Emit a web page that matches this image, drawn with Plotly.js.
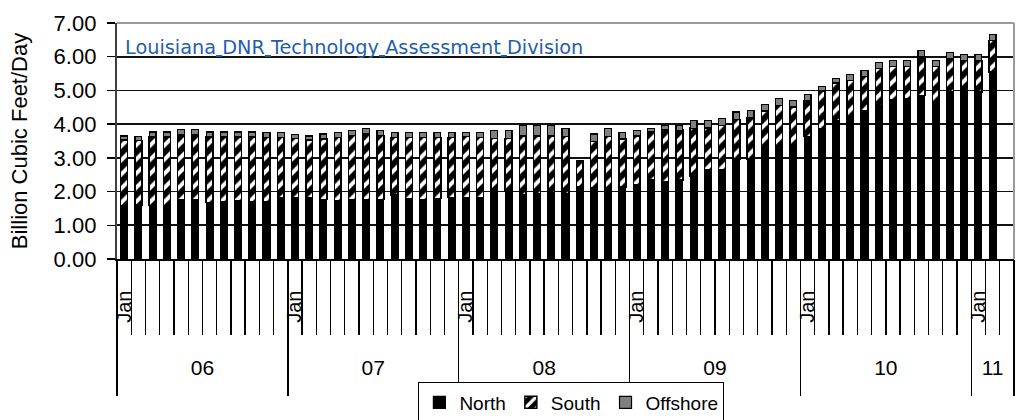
<!DOCTYPE html>
<html>
<head>
<meta charset="utf-8">
<script src="https://cdn.plot.ly/plotly-3.0.1.min.js"></script>
<style>
  html, body { margin: 0; padding: 0; background: #ffffff; }
  #chart { width: 1016px; height: 420px; }
</style>
</head>
<body>
<div id="chart"></div>
<script>
// ---- categories (one per month, Jan 2006 .. Mar 2011) ----
const months = [
  '2006-01','2006-02','2006-03','2006-04','2006-05','2006-06','2006-07','2006-08','2006-09','2006-10','2006-11','2006-12',
  '2007-01','2007-02','2007-03','2007-04','2007-05','2007-06','2007-07','2007-08','2007-09','2007-10','2007-11','2007-12',
  '2008-01','2008-02','2008-03','2008-04','2008-05','2008-06','2008-07','2008-08','2008-09','2008-10','2008-11','2008-12',
  '2009-01','2009-02','2009-03','2009-04','2009-05','2009-06','2009-07','2009-08','2009-09','2009-10','2009-11','2009-12',
  '2010-01','2010-02','2010-03','2010-04','2010-05','2010-06','2010-07','2010-08','2010-09','2010-10','2010-11','2010-12',
  '2011-01','2011-02','2011-03'
];

// ---- series values (Billion Cubic Feet/Day) ----
const north = [
  1.58,1.60,1.58,1.56,1.75,1.76,1.68,1.69,1.72,1.71,1.70,1.83,
  1.81,1.81,1.76,1.72,1.76,1.75,1.77,1.90,1.80,1.75,1.80,1.83,
  1.83,1.83,2.00,2.00,1.90,1.93,1.98,1.95,2.15,2.12,2.12,2.13,
  2.20,2.35,2.30,2.35,2.46,2.64,2.64,2.96,2.96,3.30,3.36,3.35,
  3.63,3.85,4.10,4.18,4.40,4.55,4.72,4.75,4.85,4.60,4.97,4.98,
  4.95,5.55,null
];
const south = [
  1.95,1.92,2.04,2.06,1.94,1.93,1.94,1.93,1.90,1.91,1.91,1.78,
  1.77,1.72,1.80,1.89,1.91,1.97,1.89,1.70,1.80,1.85,1.80,1.77,
  1.80,1.77,1.58,1.58,1.75,1.72,1.67,1.68,0.74,1.37,1.52,1.43,
  1.45,1.42,1.55,1.47,1.42,1.25,1.33,1.18,1.23,1.09,1.20,1.16,
  1.07,1.14,1.12,1.12,1.02,1.11,0.99,0.96,1.14,1.11,0.98,0.91,
  0.94,0.93,null
];
const offshore = [
  0.12,0.12,0.15,0.15,0.15,0.15,0.15,0.15,0.15,0.15,0.15,0.15,
  0.12,0.12,0.15,0.15,0.15,0.15,0.15,0.15,0.15,0.15,0.15,0.15,
  0.12,0.15,0.22,0.22,0.30,0.30,0.30,0.23,0.03,0.22,0.22,0.20,
  0.15,0.10,0.10,0.13,0.22,0.22,0.20,0.22,0.22,0.20,0.20,0.20,
  0.18,0.13,0.13,0.18,0.18,0.18,0.18,0.18,0.20,0.18,0.18,0.18,
  0.18,0.18,null
];

// ---- labels ----
const seriesNames = ['North', 'South', 'Offshore'];
const monthTickLabel = 'Jan';
const yearLabels = ['06', '07', '08', '09', '10', '11'];
const monthsPerYear = [12, 12, 12, 12, 12, 3];
const yTickVals = [0, 1, 2, 3, 4, 5, 6, 7];
const yTitle = 'Billion Cubic Feet/Day';
const sourceText = 'Louisiana<u> </u>DNR<u> </u>Technology<u> </u>Assessment<u> </u>Division';

// derived axis helpers (category index space)
const monthTickText = months.map(m => m.endsWith('-01') ? monthTickLabel : '');
const yearBounds = [-0.5];
const yearCenters = [];
let acc = 0;
monthsPerYear.forEach(n => {
  yearCenters.push(acc + n / 2 - 0.5);
  acc += n;
  yearBounds.push(acc - 0.5);
});
const nCat = months.length;

const FONT = '"Liberation Sans", Arial, sans-serif';

const traces = [
  {
    type: 'bar', name: seriesNames[0], x: months, y: north,
    marker: { color: '#000000', line: { color: '#000000', width: 1.2 } },
    hoverinfo: 'skip'
  },
  {
    type: 'bar', name: seriesNames[1], x: months, y: south,
    marker: {
      color: '#ffffff',
      line: { color: '#000000', width: 1.5 },
      pattern: { shape: '/', fgcolor: '#ffffff', bgcolor: '#000000', size: 10, solidity: 0.4 }
    },
    hoverinfo: 'skip'
  },
  {
    type: 'bar', name: seriesNames[2], x: months, y: offshore,
    marker: { color: '#808080', line: { color: '#000000', width: 1.2 } },
    hoverinfo: 'skip'
  },
  // empty helper traces so the year-divider and year-label axes are drawn
  { type: 'scatter', mode: 'markers', x: [], y: [], xaxis: 'x2', yaxis: 'y', showlegend: false, hoverinfo: 'skip' },
  { type: 'scatter', mode: 'markers', x: [], y: [], xaxis: 'x3', yaxis: 'y', showlegend: false, hoverinfo: 'skip' }
];

const layout = {
  width: 1016, height: 420,
  margin: { l: 117, r: 2, t: 23, b: 161, autoexpand: false },
  paper_bgcolor: '#ffffff', plot_bgcolor: '#ffffff',
  barmode: 'stack', bargap: 0.52,
  font: { family: FONT, color: '#000000' },
  showlegend: true,
  legend: {
    orientation: 'h', x: 0.336, xanchor: 'left', y: -0.523, yanchor: 'top',
    bordercolor: '#000000', borderwidth: 1, bgcolor: '#ffffff',
    font: { family: FONT, size: 19, color: '#000000' }, traceorder: 'normal'
  },
  xaxis: {
    type: 'category', categoryorder: 'array', categoryarray: months,
    range: [-0.5, nCat - 0.5],
    tickmode: 'array', tickvals: months, ticktext: monthTickText,
    tickson: 'boundaries', ticks: 'outside', ticklen: 74, tickwidth: 1.3, tickcolor: '#000000',
    tickangle: -90, ticklabelstandoff: 22,
    tickfont: { family: FONT, size: 20, color: '#000000' },
    showline: true, linecolor: '#000000', linewidth: 1.5,
    showgrid: false, zeroline: false, automargin: false, fixedrange: true
  },
  xaxis2: {
    overlaying: 'x', anchor: 'y', side: 'bottom', type: 'linear',
    range: [-0.5, nCat - 0.5], autorange: false,
    tickmode: 'array', tickvals: yearBounds,
    ticks: 'outside', ticklen: 136, tickwidth: 1.3, tickcolor: '#000000',
    showticklabels: false, showgrid: false, zeroline: false, showline: false,
    automargin: false, fixedrange: true
  },
  xaxis3: {
    overlaying: 'x', anchor: 'y', side: 'bottom', type: 'linear',
    range: [-0.5, nCat - 0.5], autorange: false,
    tickmode: 'array', tickvals: yearCenters, ticktext: yearLabels,
    ticks: '', ticklabelstandoff: 94,
    tickfont: { family: FONT, size: 21, color: '#000000' },
    showgrid: false, zeroline: false, showline: false,
    automargin: false, fixedrange: true
  },
  yaxis: {
    range: [0, 7], tickmode: 'array', tickvals: yTickVals, tickformat: '.2f',
    ticks: 'outside', ticklen: 8, tickwidth: 1.5, tickcolor: '#000000',
    ticklabelstandoff: 6,
    tickfont: { family: FONT, size: 22, color: '#000000' },
    showgrid: true, gridcolor: '#111111', gridwidth: 1.6,
    showline: true, linecolor: '#404040', linewidth: 2.2,
    zeroline: false, automargin: false, fixedrange: true,
    title: { text: yTitle, font: { family: FONT, size: 22, color: '#000000' }, standoff: 20 }
  },
  shapes: [
    { type: 'line', xref: 'paper', yref: 'paper', x0: 0, x1: 1, y0: 1, y1: 1,
      line: { color: '#9a9a9a', width: 2 }, layer: 'above' },
    { type: 'line', xref: 'paper', yref: 'paper', x0: 1, x1: 1, y0: 0, y1: 1,
      line: { color: '#9a9a9a', width: 2 }, layer: 'above' }
  ],
  annotations: [
    {
      xref: 'paper', yref: 'paper', x: 0.0065, y: 0.897,
      xanchor: 'left', yanchor: 'middle', showarrow: false,
      text: sourceText,
      font: { family: '"DejaVu Sans", Verdana, sans-serif', size: 19.3, color: '#1f5fae' }
    }
  ]
};

Plotly.newPlot('chart', traces, layout, { staticPlot: true, displayModeBar: false });
</script>
</body>
</html>
